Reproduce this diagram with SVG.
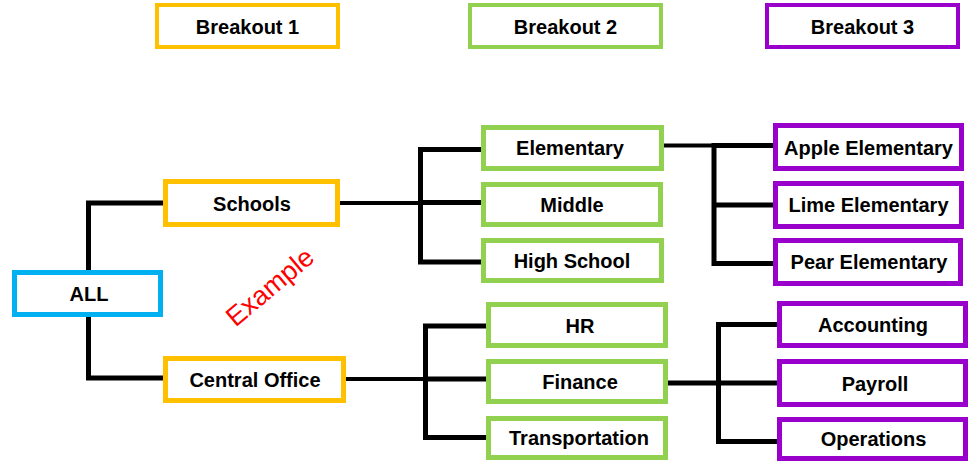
<svg xmlns="http://www.w3.org/2000/svg" width="973" height="461" viewBox="0 0 973 461">
<style>
.box{fill:#fff;stroke-width:5}
.hdr{fill:#fff;stroke-width:4}
.org{stroke:#FFC000}
.grn{stroke:#92D050}
.pur{stroke:#9900CC}
.blu{stroke:#00B0F0}
.lbl{font-family:"Liberation Sans",Arial,sans-serif;font-weight:bold;font-size:20px;fill:#000;text-anchor:middle}
.con{fill:none;stroke:#000;stroke-width:5;stroke-linejoin:miter;stroke-linecap:butt}
.thin{stroke-width:4}
</style>
<rect width="973" height="461" fill="#fff"/>
<g id="connectors">
<path class="con" d="M88.5,270 V203 H163"/>
<path class="con" d="M88.5,317 V378 H163"/>
<path class="con thin" d="M340,203 H420.5"/>
<path class="con" d="M481,149.5 H420.5 V262 H481 M420.5,202.5 H481"/>
<path class="con thin" d="M346,379 H425.5"/>
<path class="con" d="M486,326 H425.5 V437.5 H486 M425.5,379 H486"/>
<path class="con thin" d="M664,145.5 H714"/>
<path class="con" d="M773,145.5 H714 V263.5 H773 M714,205 H773"/>
<path class="con" d="M668,383 H718.5"/>
<path class="con" d="M777,324.5 H718.5 V441.5 H777 M718.5,383 H777"/>
</g>
<g id="hdr1"><rect class="hdr org" x="157" y="5" width="181" height="42"/><text class="lbl" x="247.5" y="34">Breakout 1</text></g>
<g id="hdr2"><rect class="hdr grn" x="470" y="5" width="191" height="42"/><text class="lbl" x="565.5" y="34">Breakout 2</text></g>
<g id="hdr3"><rect class="hdr pur" x="767" y="5" width="191" height="42"/><text class="lbl" x="862.5" y="34">Breakout 3</text></g>
<g id="all"><rect class="box blu" x="14.5" y="272.5" width="146" height="42"/><text class="lbl" x="89" y="301">ALL</text></g>
<g id="schools"><rect class="box org" x="165.5" y="181.5" width="172" height="43"/><text class="lbl" x="252" y="211">Schools</text></g>
<g id="central"><rect class="box org" x="165.5" y="358.5" width="178" height="42"/><text class="lbl" x="255" y="386.5">Central Office</text></g>
<g id="elementary"><rect class="box grn" x="483.5" y="127.5" width="178" height="41"/><text class="lbl" x="570" y="155">Elementary</text></g>
<g id="middle"><rect class="box grn" x="483.5" y="184.5" width="177" height="40"/><text class="lbl" x="572" y="211.5">Middle</text></g>
<g id="highschool"><rect class="box grn" x="483.5" y="240.5" width="178" height="40"/><text class="lbl" x="572" y="268">High School</text></g>
<g id="hr"><rect class="box grn" x="488.5" y="304.5" width="177" height="41"/><text class="lbl" x="580" y="332.5">HR</text></g>
<g id="finance"><rect class="box grn" x="488.5" y="361.5" width="177" height="40"/><text class="lbl" x="580" y="388.5">Finance</text></g>
<g id="transportation"><rect class="box grn" x="488.5" y="418.5" width="177" height="39"/><text class="lbl" x="579" y="444.5">Transportation</text></g>
<g id="apple"><rect class="box pur" x="775.5" y="125.5" width="186" height="43"/><text class="lbl" x="868.5" y="155">Apple Elementary</text></g>
<g id="lime"><rect class="box pur" x="775.5" y="183.5" width="186" height="43"/><text class="lbl" x="868.5" y="212">Lime Elementary</text></g>
<g id="pear"><rect class="box pur" x="775.5" y="240.5" width="185" height="43"/><text class="lbl" x="869" y="269">Pear Elementary</text></g>
<g id="accounting"><rect class="box pur" x="779.5" y="303.5" width="186" height="42"/><text class="lbl" x="873" y="331.5">Accounting</text></g>
<g id="payroll"><rect class="box pur" x="779.5" y="361.5" width="186" height="43"/><text class="lbl" x="875" y="391">Payroll</text></g>
<g id="operations"><rect class="box pur" x="779.5" y="419.5" width="186" height="39"/><text class="lbl" x="873.5" y="446">Operations</text></g>
<text x="0" y="9" transform="translate(270,287) rotate(-40)" font-family="Liberation Sans, Arial, sans-serif" font-size="27" fill="#FF0000" text-anchor="middle">Example</text>
</svg>
